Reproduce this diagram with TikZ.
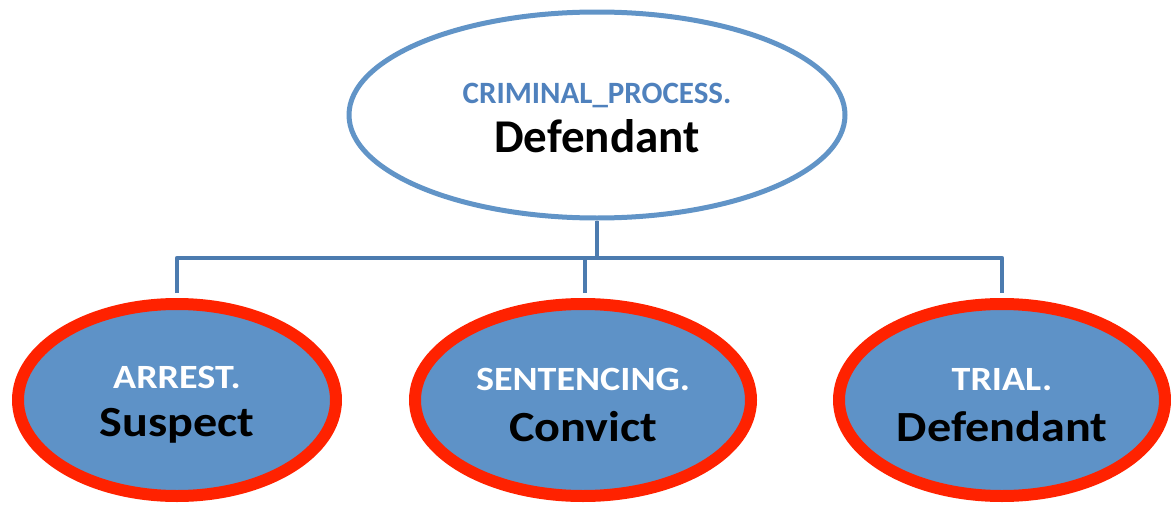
\documentclass[tikz,border=0pt]{standalone}
\usepackage{fontspec}
\usepackage{graphicx}
\setmainfont{Carlito}
\usetikzlibrary{shapes.geometric, shadows, positioning}

\definecolor{rootline}{HTML}{6194C7}
\definecolor{roottext}{HTML}{4F81BD}
\definecolor{linkblue}{HTML}{4C7BAF}
\definecolor{leaffill}{HTML}{5E92C7}
\definecolor{leafred}{HTML}{FF2200}

% the leaf captions are a little wider than the font
\newcommand{\widetext}[1]{\scalebox{1.12}[1]{#1}}

\begin{document}
\begin{tikzpicture}[x=1pt, y=-1pt, line join=round]

  % styles for the concept ellipses and the tree lines
  \tikzstyle{rootbox} = [draw=rootline, fill=white, ellipse, line width=5pt, inner sep=0pt, minimum width=496pt, minimum height=206pt, align=center]
  \tikzstyle{leafbox} = [draw=leafred, fill=leaffill, ellipse, line width=12pt, inner sep=0pt, minimum height=192pt, align=center, drop shadow={opacity=0.25, shadow xshift=2pt, shadow yshift=-3pt}]
  \tikzstyle{link} = [draw=linkblue, line width=4.5pt]

  \useasboundingbox (0,0) rectangle (1171,506);

  \node (root) [rootbox] at (597,115)
    {\rule{0pt}{27pt}\fontsize{31}{34}\selectfont\bfseries\color{roottext}CRIMINAL\_PROCESS.\\[11pt]
     \fontsize{47}{50}\selectfont\bfseries Defendant};

  \node (arrest) [leafbox, minimum width=318pt] at (177,400)
    {\rule{0pt}{32pt}\fontsize{34}{32}\selectfont\bfseries\color{white}\widetext{ARREST.}\\[19pt]
     \fontsize{43}{46}\selectfont\bfseries\widetext{Suspect}};
  \node (sentencing) [leafbox, minimum width=336pt] at (583,400)
    {\rule{0pt}{32pt}\fontsize{34}{32}\selectfont\bfseries\color{white}\widetext{SENTENCING.}\\[19pt]
     \fontsize{43}{46}\selectfont\bfseries\widetext{Convict}};
  \node (trial) [leafbox, minimum width=326pt] at (1002,400)
    {\rule{0pt}{32pt}\fontsize{34}{32}\selectfont\bfseries\color{white}\widetext{TRIAL.}\\[19pt]
     \fontsize{43}{46}\selectfont\bfseries\widetext{Defendant}};

  \coordinate (bus) at (0,258);

  \draw[link] (root.south) -- (root.south |- bus);
  \draw[link, shorten <=5pt] (arrest.north) -- (arrest.north |- bus) -| ([yshift=5pt]trial.north);
  \draw[link, shorten <=5pt] ([xshift=2pt]sentencing.north) -- ([xshift=2pt]sentencing.north |- bus);

\end{tikzpicture}
\end{document}
